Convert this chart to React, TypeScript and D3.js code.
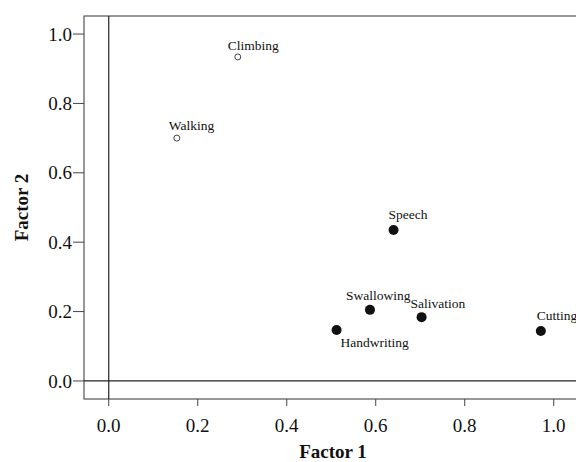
import React from "react";
import * as d3 from "d3";

const variables = ["Climbing", "Walking", "Speech", "Swallowing", "Salivation", "Handwriting", "Cutting"];
const factor1 = [0.29, 0.153, 0.64, 0.587, 0.703, 0.512, 0.971];
const factor2 = [0.934, 0.70, 0.435, 0.205, 0.184, 0.147, 0.144];
const group = ["open", "open", "filled", "filled", "filled", "filled", "filled"];
const labelDx = [-10, -8, -5, -24, -11, 4, -4];
const labelDy = [-7, -8, -11, -10, -9, 17, -11];
const xTicks = [0.0, 0.2, 0.4, 0.6, 0.8, 1.0];
const yTicks = [0.0, 0.2, 0.4, 0.6, 0.8, 1.0];

const W = 576;
const H = 462;
const left = 84;
const right = 576;
const top = 16;
const bottom = 399;

export default function App() {
  const x = d3.scaleLinear().domain([-0.0556, 1.05]).range([left, right]);
  const y = d3.scaleLinear().domain([-0.052, 1.052]).range([bottom, top]);
  const fmt = d3.format(".1f");
  const font = "'Liberation Serif', 'Times New Roman', serif";
  return (
    <svg width={W} height={H} style={{ position: "absolute", left: 0, top: 0, background: "#fff" }} fontFamily={font}>
      <rect x={0} y={0} width={W} height={H} fill="#fff" />
      {/* frame */}
      <rect x={left} y={top} width={right - left + 2} height={bottom - top} fill="none" stroke="#333" strokeWidth={1} />
      {/* zero lines */}
      <line x1={x(0)} x2={x(0)} y1={top} y2={bottom} stroke="#222" strokeWidth={1.2} />
      <line x1={left} x2={right} y1={y(0)} y2={y(0)} stroke="#222" strokeWidth={1.2} />
      {/* y axis */}
      {yTicks.map((t) => (
        <g key={"y" + t}>
          <line x1={left - 11} x2={left} y1={y(t)} y2={y(t)} stroke="#444" strokeWidth={1} />
          <text x={left - 12} y={y(t)} dy="0.35em" textAnchor="end" fontSize={19} fill="#111">
            {fmt(t)}
          </text>
        </g>
      ))}
      {/* x axis */}
      {xTicks.map((t) => (
        <g key={"x" + t}>
          <line x1={x(t)} x2={x(t)} y1={bottom} y2={bottom + 7} stroke="#444" strokeWidth={1} />
          <text x={x(t)} y={432} textAnchor="middle" fontSize={19} fill="#111">
            {fmt(t)}
          </text>
        </g>
      ))}
      <text x={333} y={458} textAnchor="middle" fontSize={19} fontWeight="bold" fill="#111">
        Factor 1
      </text>
      <text
        transform={`translate(28, ${(y(0.4) + y(0.6)) / 2}) rotate(-90)`}
        textAnchor="middle"
        fontSize={19}
        fontWeight="bold"
        fill="#111"
      >
        Factor 2
      </text>
      {/* points */}
      {variables.map((v, i) => {
        const cx = x(factor1[i]);
        const cy = y(factor2[i]);
        return (
          <g key={v}>
            {group[i] === "open" ? (
              <circle cx={cx} cy={cy} r={3} fill="#fff" stroke="#444" strokeWidth={1} />
            ) : (
              <circle cx={cx} cy={cy} r={5} fill="#111" />
            )}
            <text x={cx + labelDx[i]} y={cy + labelDy[i]} fontSize={13.5} fill="#111">
              {v}
            </text>
          </g>
        );
      })}
    </svg>
  );
}
